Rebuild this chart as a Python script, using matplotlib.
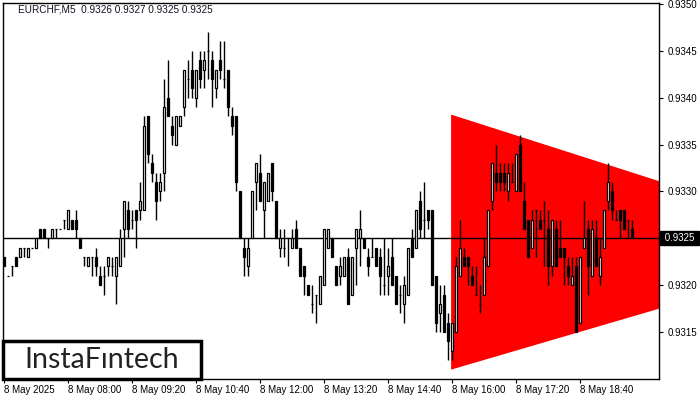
import numpy as np
import matplotlib.pyplot as plt
from matplotlib.patches import Polygon, Rectangle
from matplotlib.transforms import blended_transform_factory

# EURCHF M5 candles, 8 May 2025 from 06:40 (one row = 80 minutes)
opens = [
    0.9323, 0.9321, 0.9322, 0.9323, 0.9323, 0.9324, 0.9323, 0.9324, 0.9324, 0.9326, 0.9326, 0.9325, 0.9325, 0.9326, 0.9326, 0.9327,
    0.9326, 0.9327, 0.9327, 0.9325, 0.9323, 0.9322, 0.9323, 0.9323, 0.9321, 0.9321, 0.9322, 0.9322, 0.9321, 0.9322, 0.9326, 0.9328,
    0.9327, 0.9328, 0.9328, 0.9328, 0.9338, 0.9333, 0.9331, 0.9330, 0.9332, 0.9340, 0.9337, 0.9335, 0.9337, 0.9339, 0.9342, 0.9343,
    0.9340, 0.9344, 0.9343, 0.9345, 0.9344, 0.9341, 0.9344, 0.9342, 0.9343, 0.9338, 0.9338, 0.9330, 0.9324, 0.9322, 0.9325, 0.9331,
    0.9332, 0.9328, 0.9329, 0.9333, 0.9329, 0.9324, 0.9324, 0.9325, 0.9324, 0.9326, 0.9324, 0.9322, 0.9320, 0.9318, 0.9319, 0.9318,
    0.9320, 0.9324, 0.9325, 0.9322, 0.9321, 0.9321, 0.9323, 0.9319, 0.9324, 0.9325, 0.9325, 0.9323, 0.9323, 0.9324, 0.9323, 0.9320,
    0.9321, 0.9323, 0.9321, 0.9319, 0.9318, 0.9319, 0.9325, 0.9324, 0.9329, 0.9327, 0.9328, 0.9328, 0.9321, 0.9317, 0.9319, 0.9316,
    0.9313, 0.9315, 0.9321, 0.9323, 0.9323, 0.9321, 0.9319, 0.9318, 0.9319, 0.9322, 0.9329, 0.9332, 0.9332, 0.9332, 0.9330, 0.9331,
    0.9330, 0.9335, 0.9329, 0.9327, 0.9324, 0.9328, 0.9327, 0.9327, 0.9326, 0.9322, 0.9326, 0.9324, 0.9324, 0.9322, 0.9320, 0.9322,
    0.9316, 0.9324, 0.9326, 0.9321, 0.9325, 0.9321, 0.9324, 0.9329, 0.9330, 0.9327, 0.9328, 0.9328, 0.9327, 0.9326,
]
highs = [
    0.9323, 0.9321, 0.9322, 0.9323, 0.9324, 0.9324, 0.9324, 0.9324, 0.9325, 0.9326, 0.9326, 0.9325, 0.9326, 0.9326, 0.9326, 0.9327,
    0.9328, 0.9327, 0.9328, 0.9325, 0.9323, 0.9323, 0.9323, 0.9324, 0.9322, 0.9322, 0.9323, 0.9323, 0.9323, 0.9326, 0.9329, 0.9329,
    0.9328, 0.9328, 0.9331, 0.9338, 0.9338, 0.9334, 0.9332, 0.9332, 0.9342, 0.9344, 0.9338, 0.9338, 0.9338, 0.9343, 0.9344, 0.9345,
    0.9343, 0.9345, 0.9345, 0.9347, 0.9345, 0.9343, 0.9346, 0.9346, 0.9343, 0.9339, 0.9338, 0.9330, 0.9325, 0.9325, 0.9330, 0.9333,
    0.9334, 0.9331, 0.9332, 0.9333, 0.9329, 0.9326, 0.9326, 0.9325, 0.9326, 0.9327, 0.9324, 0.9322, 0.9320, 0.9320, 0.9319, 0.9321,
    0.9326, 0.9326, 0.9325, 0.9322, 0.9323, 0.9323, 0.9324, 0.9323, 0.9326, 0.9328, 0.9325, 0.9324, 0.9325, 0.9324, 0.9324, 0.9325,
    0.9324, 0.9325, 0.9321, 0.9320, 0.9321, 0.9324, 0.9326, 0.9328, 0.9330, 0.9331, 0.9328, 0.9328, 0.9321, 0.9320, 0.9320, 0.9317,
    0.9316, 0.9323, 0.9327, 0.9324, 0.9323, 0.9322, 0.9322, 0.9320, 0.9325, 0.9328, 0.9333, 0.9335, 0.9333, 0.9333, 0.9333, 0.9333,
    0.9334, 0.9336, 0.9331, 0.9327, 0.9328, 0.9328, 0.9328, 0.9329, 0.9328, 0.9327, 0.9327, 0.9327, 0.9324, 0.9323, 0.9323, 0.9323,
    0.9323, 0.9329, 0.9327, 0.9327, 0.9327, 0.9325, 0.9328, 0.9333, 0.9331, 0.9328, 0.9328, 0.9328, 0.9327, 0.9327,
]
lows = [
    0.9322, 0.9321, 0.9321, 0.9322, 0.9323, 0.9323, 0.9323, 0.9324, 0.9324, 0.9325, 0.9325, 0.9324, 0.9325, 0.9325, 0.9326, 0.9326,
    0.9326, 0.9326, 0.9325, 0.9324, 0.9322, 0.9322, 0.9321, 0.9321, 0.9320, 0.9319, 0.9321, 0.9321, 0.9318, 0.9322, 0.9323, 0.9325,
    0.9326, 0.9324, 0.9327, 0.9328, 0.9333, 0.9331, 0.9327, 0.9329, 0.9330, 0.9338, 0.9335, 0.9335, 0.9337, 0.9338, 0.9340, 0.9340,
    0.9339, 0.9341, 0.9341, 0.9342, 0.9339, 0.9340, 0.9342, 0.9341, 0.9338, 0.9336, 0.9330, 0.9325, 0.9321, 0.9321, 0.9325, 0.9328,
    0.9329, 0.9325, 0.9329, 0.9329, 0.9325, 0.9323, 0.9323, 0.9322, 0.9324, 0.9324, 0.9321, 0.9319, 0.9319, 0.9317, 0.9316, 0.9318,
    0.9320, 0.9324, 0.9323, 0.9320, 0.9320, 0.9321, 0.9318, 0.9319, 0.9320, 0.9322, 0.9324, 0.9321, 0.9323, 0.9322, 0.9319, 0.9319,
    0.9319, 0.9320, 0.9318, 0.9317, 0.9316, 0.9319, 0.9323, 0.9324, 0.9325, 0.9325, 0.9326, 0.9320, 0.9315, 0.9315, 0.9315, 0.9312,
    0.9312, 0.9315, 0.9321, 0.9322, 0.9320, 0.9320, 0.9319, 0.9317, 0.9319, 0.9322, 0.9328, 0.9330, 0.9330, 0.9330, 0.9329, 0.9331,
    0.9330, 0.9330, 0.9326, 0.9323, 0.9324, 0.9323, 0.9326, 0.9322, 0.9320, 0.9321, 0.9322, 0.9323, 0.9320, 0.9320, 0.9320, 0.9315,
    0.9316, 0.9324, 0.9319, 0.9321, 0.9322, 0.9320, 0.9324, 0.9328, 0.9327, 0.9327, 0.9325, 0.9326, 0.9325, 0.9325,
]
closes = [
    0.9322, 0.9321, 0.9322, 0.9322, 0.9324, 0.9324, 0.9324, 0.9324, 0.9325, 0.9325, 0.9325, 0.9325, 0.9326, 0.9326, 0.9326, 0.9327,
    0.9328, 0.9326, 0.9326, 0.9324, 0.9323, 0.9323, 0.9323, 0.9322, 0.9320, 0.9321, 0.9323, 0.9322, 0.9323, 0.9325, 0.9329, 0.9326,
    0.9327, 0.9327, 0.9329, 0.9337, 0.9334, 0.9332, 0.9329, 0.9331, 0.9339, 0.9338, 0.9336, 0.9338, 0.9338, 0.9343, 0.9342, 0.9341,
    0.9343, 0.9342, 0.9344, 0.9345, 0.9342, 0.9343, 0.9343, 0.9342, 0.9339, 0.9337, 0.9331, 0.9325, 0.9323, 0.9324, 0.9330, 0.9333,
    0.9329, 0.9331, 0.9332, 0.9330, 0.9325, 0.9325, 0.9324, 0.9325, 0.9325, 0.9324, 0.9321, 0.9321, 0.9319, 0.9318, 0.9319, 0.9321,
    0.9326, 0.9326, 0.9323, 0.9320, 0.9322, 0.9323, 0.9318, 0.9323, 0.9326, 0.9326, 0.9324, 0.9322, 0.9323, 0.9322, 0.9321, 0.9320,
    0.9322, 0.9320, 0.9318, 0.9319, 0.9320, 0.9324, 0.9323, 0.9328, 0.9326, 0.9327, 0.9327, 0.9320, 0.9316, 0.9318, 0.9315, 0.9314,
    0.9316, 0.9322, 0.9324, 0.9322, 0.9322, 0.9320, 0.9319, 0.9318, 0.9323, 0.9328, 0.9333, 0.9331, 0.9331, 0.9331, 0.9332, 0.9331,
    0.9334, 0.9330, 0.9326, 0.9323, 0.9327, 0.9328, 0.9326, 0.9327, 0.9322, 0.9327, 0.9322, 0.9323, 0.9323, 0.9321, 0.9321, 0.9315,
    0.9323, 0.9325, 0.9322, 0.9326, 0.9322, 0.9323, 0.9328, 0.9331, 0.9328, 0.9327, 0.9327, 0.9326, 0.9327, 0.9325,
]

time_labels = ['8 May 2025', '8 May 08:00', '8 May 09:20', '8 May 10:40', '8 May 12:00',
               '8 May 13:20', '8 May 14:40', '8 May 16:00', '8 May 17:20', '8 May 18:40']
label_step = 16
price_ticks = [0.9315, 0.9320, 0.9325, 0.9330, 0.9335, 0.9340, 0.9345, 0.9350]
current_price = 0.9325

# symmetrical triangle (bar index, upper line, lower line)
pattern_x = [111.7, 163.7]
pattern_upper = [0.93382, 0.93311]
pattern_lower = [0.93110, 0.93175]

opens = np.array(opens)
highs = np.array(highs)
lows = np.array(lows)
closes = np.array(closes)
x = np.arange(len(opens))

fig = plt.figure(figsize=(7, 4), dpi=100)
ax = fig.add_axes([3 / 700, 21 / 400, 656 / 700, 376 / 400])

tri = Polygon([(pattern_x[0], pattern_upper[0]), (pattern_x[1], pattern_upper[1]),
               (pattern_x[1], pattern_lower[1]), (pattern_x[0], pattern_lower[0])],
              closed=True, facecolor='#ff0000', edgecolor='none', zorder=1)
ax.add_patch(tri)

ax.axhline(current_price, color='black', linewidth=1, zorder=2)

ax.vlines(x, lows, highs, color='black', linewidth=1, zorder=3)
body_low = np.minimum(opens, closes)
body_h = np.abs(closes - opens)
colors = np.where(closes > opens, 'white', 'black')
ax.bar(x, body_h, bottom=body_low, width=0.55, color=colors, edgecolor='black',
       linewidth=0.9, zorder=4)

ax.set_xlim(-0.33, 163.67)
ax.set_ylim(0.93100, 0.93501)

ax.set_xticks(np.arange(len(time_labels)) * label_step)
ax.set_xticklabels(time_labels)
for lab in ax.get_xticklabels():
    lab.set_horizontalalignment('left')
    lab.set_fontfamily('Liberation Sans')
ax.tick_params(axis='x', direction='out', length=3, width=0.8, labelsize=7, pad=1)

# the current price box takes the place of its own tick label
ax.yaxis.tick_right()
ax.set_yticks(price_ticks)
ax.set_yticklabels(['' if abs(p - current_price) < 1e-9 else '%.4f' % p for p in price_ticks])
for lab in ax.get_yticklabels():
    lab.set_fontfamily('Liberation Sans')
ax.tick_params(axis='y', direction='out', length=3, width=0.8, labelsize=7, pad=3)

for s in ax.spines.values():
    s.set_color('black')
    s.set_linewidth(1)

trans = blended_transform_factory(ax.transAxes, ax.transData)
ax.text(1.004, current_price, ' %.4f ' % current_price, transform=trans, color='white',
        fontsize=7, family='Liberation Sans', va='center', ha='left', clip_on=False,
        bbox=dict(boxstyle='square,pad=0.2', facecolor='black', edgecolor='black'), zorder=10)

fig.text(18 / 700, 1 - 10 / 400, 'EURCHF,M5  0.9326 0.9327 0.9325 0.9325',
         fontsize=7.2, family='Liberation Sans', color='#101020', va='center', ha='left')

ax.add_patch(Rectangle((0, 0), 0.302, 0.101, transform=ax.transAxes, facecolor='white',
                       edgecolor='black', linewidth=2.5, zorder=6, clip_on=False))
ax.text(0.150, 0.0285, 'InstaF\u0131ntech', transform=ax.transAxes, ha='center',
        va='baseline', fontsize=20.5, family='Lato', color='#222222', zorder=7)

fig.savefig('out.png', dpi=100)
